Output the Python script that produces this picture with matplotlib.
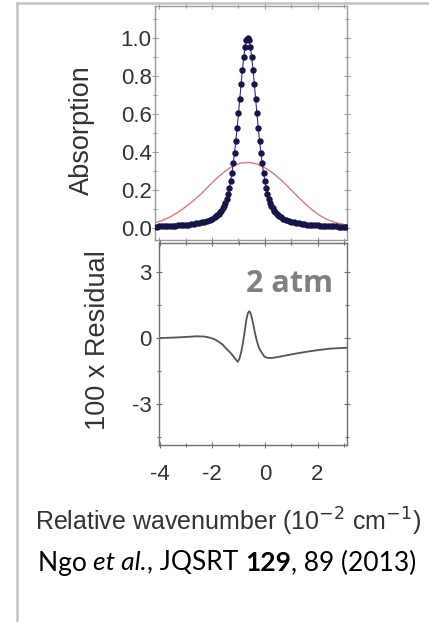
import numpy as np
import matplotlib
matplotlib.use("Agg")
import matplotlib.pyplot as plt
from matplotlib.ticker import MultipleLocator

# ---------------- data ----------------
# measured absorption (dots)
abs_x = [-4.2, -4.1, -4.0, -3.9, -3.8, -3.7, -3.6, -3.5, -3.4, -3.3, -3.2, -3.1,
         -3.0, -2.9, -2.8, -2.7, -2.6, -2.5, -2.4, -2.3, -2.2, -2.1, -2.0, -1.9,
         -1.85, -1.8, -1.75, -1.7, -1.65, -1.6, -1.55, -1.5, -1.45, -1.4, -1.35, -1.3,
         -1.25, -1.2, -1.15, -1.1, -1.05, -1.0, -0.95, -0.9, -0.85, -0.8, -0.75, -0.7,
         -0.65, -0.6, -0.55, -0.5, -0.45, -0.4, -0.35, -0.3, -0.25, -0.2, -0.15, -0.1,
         -0.05, 0.0, 0.05, 0.1, 0.15, 0.2, 0.25, 0.3, 0.35, 0.4, 0.45, 0.5, 0.55,
         0.6, 0.7, 0.8, 0.9, 1.0, 1.1, 1.2, 1.3, 1.4, 1.5, 1.6, 1.7, 1.8, 1.9,
         2.0, 2.1, 2.2, 2.3, 2.4, 2.5, 2.6, 2.7, 2.8, 2.9, 3.0, 3.1]
abs_y = [0.008, 0.008, 0.009, 0.009, 0.010, 0.010, 0.011, 0.012, 0.013, 0.014, 0.015, 0.016,
         0.017, 0.018, 0.020, 0.022, 0.025, 0.027, 0.030, 0.034, 0.038, 0.043, 0.049, 0.057,
         0.062, 0.067, 0.074, 0.082, 0.091, 0.103, 0.117, 0.134, 0.155, 0.181, 0.211, 0.248,
         0.290, 0.340, 0.396, 0.459, 0.528, 0.603, 0.680, 0.758, 0.833, 0.900, 0.953, 0.988,
         1.000, 0.988, 0.953, 0.900, 0.833, 0.758, 0.680, 0.603, 0.528, 0.459, 0.396, 0.340,
         0.290, 0.248, 0.211, 0.181, 0.155, 0.134, 0.117, 0.103, 0.091, 0.082, 0.074, 0.067,
         0.062,
         0.057, 0.049, 0.043, 0.038, 0.034, 0.030, 0.027, 0.025, 0.022, 0.020, 0.018, 0.017,
         0.016, 0.015, 0.014, 0.013, 0.012, 0.011, 0.010, 0.0095, 0.009, 0.0085, 0.008,
         0.0075, 0.007, 0.0068]

# broad (red) profile
red_x = [-4.2, -3.9, -3.6, -3.3, -3.0, -2.7, -2.4, -2.1, -1.8, -1.5, -1.2, -0.9,
         -0.6, -0.3, 0.0, 0.3, 0.6, 0.9, 1.2, 1.5, 1.8, 2.1, 2.4, 2.7, 3.1]
red_y = [0.025, 0.040, 0.058, 0.082, 0.112, 0.145, 0.182, 0.225, 0.265, 0.300, 0.327, 0.342,
         0.345, 0.337, 0.317, 0.290, 0.255, 0.215, 0.172, 0.132, 0.095, 0.065, 0.043, 0.028,
         0.016]

# residual x 100
res_x = [-4.0, -3.5, -3.0, -2.6, -2.3, -2.1, -1.9, -1.75, -1.6, -1.45, -1.3, -1.2,
         -1.1, -1.03, -0.97, -0.9, -0.83, -0.76, -0.7, -0.64, -0.59, -0.54, -0.48,
         -0.42, -0.36, -0.3, -0.22, -0.12, -0.02, 0.1, 0.25, 0.5, 0.8, 1.2, 1.6,
         2.0, 2.5, 3.1]
res_y = [0.0, 0.02, 0.05, 0.08, 0.07, 0.02, -0.06, -0.17, -0.3, -0.5, -0.68, -0.82,
         -0.98, -1.08, -0.95, -0.65, -0.2, 0.35, 0.85, 1.15, 1.22, 1.12, 0.85,
         0.5, 0.15, -0.15, -0.45, -0.66, -0.84, -0.9, -0.91, -0.86, -0.79, -0.7, -0.62,
         -0.55, -0.48, -0.44]

top_yticks = [0.0, 0.2, 0.4, 0.6, 0.8, 1.0]
bot_yticks = [-3, 0, 3]
bot_xticks = [-4, -2, 0, 2]

# ---------------- figure ----------------
W, H = 429, 622
fig = plt.figure(figsize=(W / 100, H / 100), dpi=100)
fig.patch.set_facecolor("white")

def fx(px):
    return px / W

def fy(py):
    return 1 - py / H

# slide border
fig.add_artist(plt.Line2D([fx(17), fx(17)], [fy(3), 0], color="#c4c4c4", lw=1.8,
                          transform=fig.transFigure))
fig.add_artist(plt.Line2D([fx(17), 1], [fy(3), fy(3)], color="#c4c4c4", lw=1.8,
                          transform=fig.transFigure))

sans = ["Liberation Sans", "DejaVu Sans"]
tick_font = dict(family=sans, size=16)
tcol = "#333333"

ax1 = fig.add_axes([fx(155), fy(240), fx(347) - fx(155), fy(6) - fy(240)])
ax2 = fig.add_axes([fx(159), fy(445), fx(347) - fx(159), fy(243) - fy(445)])

# top panel
ax1.plot(red_x, red_y, color="#e07a78", lw=1.0, zorder=2)
ax1.plot(abs_x, abs_y, color="#2a2aa8", lw=0.8, zorder=3)
ax1.plot(abs_x, abs_y, ls="none", marker="o", ms=3.6, mfc="#15154a", mec="#15154a",
         zorder=4)
ax1.set_xlim(-4.17, 3.12)
ax1.set_ylim(-0.063, 1.168)
ax1.set_yticks(top_yticks)
ax1.set_yticklabels([f"{v:.1f}" for v in top_yticks], **tick_font, color=tcol)
ax1.yaxis.set_minor_locator(MultipleLocator(0.1))
ax1.xaxis.set_major_locator(MultipleLocator(2))
ax1.xaxis.set_minor_locator(MultipleLocator(1))
ax1.tick_params(axis="x", labelbottom=False)

# bottom panel
ax2.plot(res_x, res_y, color="#555555", lw=1.3, solid_joinstyle="round")
ax2.set_xlim(-4.02, 3.12)
ax2.set_ylim(-4.86, 4.32)
ax2.set_yticks(bot_yticks)
ax2.set_yticklabels([str(v) for v in bot_yticks], **tick_font, color=tcol)
ax2.yaxis.set_minor_locator(MultipleLocator(1.5))
ax2.set_xticks(bot_xticks)
ax2.set_xticklabels([str(v) for v in bot_xticks], **tick_font, color=tcol)
ax2.xaxis.set_minor_locator(MultipleLocator(1))

for ax, sc in ((ax1, "#9a9a9a"), (ax2, "#707070")):
    for s in ax.spines.values():
        s.set_color(sc)
        s.set_linewidth(1.0)
    ax.tick_params(which="both", direction="inout", top=True, right=True,
                   color=sc, width=0.8)
    ax.tick_params(which="major", length=5)
    ax.tick_params(which="minor", length=3)
ax1.tick_params(axis="y", pad=0)
ax2.tick_params(axis="y", pad=3)
ax2.tick_params(axis="x", pad=11)

# labels
fig.text(fx(82), fy(130), "Absorption", rotation=90, ha="center", va="center",
         family=sans, size=19.5, color=tcol)
fig.text(fx(98), fy(340), "100 x Residual", rotation=90, ha="center", va="center",
         family=sans, size=19.5, color=tcol)
fig.text(fx(228), fy(522), r"Relative wavenumber (10$^{-2}$ cm$^{-1}$)", ha="center",
         va="center", family=sans, size=18, color=tcol)

fig.text(fx(290), fy(284), "2 atm", ha="center", va="center", color="#808080",
         family=["Open Sans", "DejaVu Sans"], weight="bold", size=22)

# citation line, built from pieces
cite_family = ["Lato", "DejaVu Sans"]
pieces = [("Ngo ", "normal", "normal"), ("et al.", "italic", "normal"),
          (", JQSRT ", "normal", "normal"), ("129", "normal", "bold"),
          (", 89 (2013)", "normal", "normal")]
renderer = fig.canvas.get_renderer()
texts = []
for s, st, wt in pieces:
    t = fig.text(0, fy(563), s, family=cite_family, style=st, weight=wt, size=19,
                 color="black", ha="left", va="center")
    texts.append(t)
widths = [t.get_window_extent(renderer).width for t in texts]
total = sum(widths)
x0 = 227 - total / 2
for t, w in zip(texts, widths):
    t.set_x(fx(x0))
    x0 += w

fig.savefig("out.png", dpi=100, facecolor="white")
